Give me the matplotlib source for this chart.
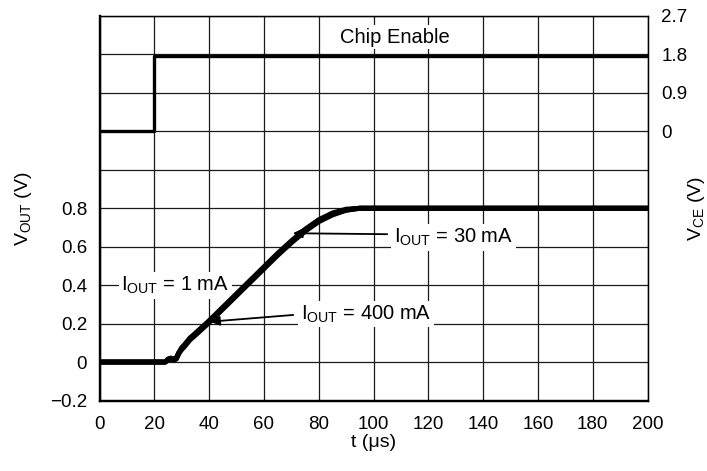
import numpy as np
import matplotlib
matplotlib.use("Agg")
import matplotlib.pyplot as plt

plt.rcParams['font.family'] = ['Liberation Sans', 'DejaVu Sans']
plt.rcParams['font.size'] = 13.5

# time axis (us) and output voltage traces
t_vout = [0, 24, 25, 26, 27, 28, 29, 30, 31, 33, 35, 40, 45, 50, 55, 60,
          65, 70, 75, 80, 85, 90, 95, 100, 200]
vout_1ma = [0.0, 0.0, 0.015, 0.02, 0.015, 0.02, 0.05, 0.075, 0.09, 0.125,
            0.15, 0.215, 0.285, 0.355, 0.425, 0.495, 0.565, 0.63, 0.69,
            0.74, 0.775, 0.795, 0.80, 0.80, 0.80]
vout_30ma = [0.0, 0.0, 0.015, 0.02, 0.015, 0.02, 0.05, 0.07, 0.085, 0.12,
             0.145, 0.21, 0.28, 0.35, 0.42, 0.49, 0.56, 0.625, 0.685,
             0.735, 0.77, 0.79, 0.80, 0.80, 0.80]
vout_400ma = [0.0, 0.0, 0.01, 0.015, 0.01, 0.015, 0.045, 0.065, 0.08, 0.115,
              0.14, 0.205, 0.275, 0.345, 0.415, 0.485, 0.555, 0.62, 0.68,
              0.73, 0.765, 0.79, 0.80, 0.80, 0.80]

# chip enable trace (V), right axis
t_ce = [0, 20, 20, 200]
v_ce = [0.0, 0.0, 1.77, 1.77]

x_ticks = [0, 20, 40, 60, 80, 100, 120, 140, 160, 180, 200]
left_ticks = [-0.2, 0.0, 0.2, 0.4, 0.6, 0.8, 1.0, 1.2, 1.4, 1.6, 1.8]
left_labels = ['\u22120.2', '0', '0.2', '0.4', '0.6', '0.8', '', '', '', '', '']
right_ticks = [0, 0.9, 1.8, 2.7]
right_labels = ['0', '0.9', '1.8', '2.7']

fig = plt.figure(figsize=(7.07, 4.71), dpi=100)
ax = fig.add_axes([99.5 / 707, 1 - 400.5 / 471, 548 / 707, 384.5 / 471])
ax2 = ax.twinx()

ax.set_xlim(0, 200)
ax.set_ylim(-0.2, 1.8)
ax2.set_ylim(-6.3, 2.7)

ax.set_xticks(x_ticks)
ax.set_yticks(left_ticks)
ax.set_yticklabels(left_labels)
ax2.set_yticks(right_ticks)
ax2.set_yticklabels(right_labels)

ax.tick_params(axis='x', length=0, pad=11)
ax.tick_params(axis='y', length=0, pad=9)
ax2.tick_params(axis='y', length=0, pad=10)

ax.set_axisbelow(True)
ax.grid(True, color='#1a1a1a', linewidth=0.9)

for a in (ax, ax2):
    a.spines['left'].set_linewidth(1.6)
    a.spines['bottom'].set_linewidth(1.6)
    a.spines['top'].set_linewidth(0.9)
    a.spines['right'].set_linewidth(0.9)

ax.plot(t_vout, vout_1ma, color='black', linewidth=3.6, zorder=3,
        solid_capstyle='round')
ax.plot(t_vout, vout_30ma, color='black', linewidth=3.6, zorder=3,
        solid_capstyle='round')
ax.plot(t_vout, vout_400ma, color='black', linewidth=3.6, zorder=3,
        solid_capstyle='round')
ax2.plot(t_ce, v_ce, color='black', linewidth=2.4, zorder=3)

fs = 14.5
box = dict(facecolor='white', edgecolor='none', pad=2)
ax.text(107.8, 1.69, 'Chip Enable', ha='center', va='center', fontsize=fs,
        bbox=box, zorder=1)
ax.text(27.7, 0.40, r'I$_{\mathregular{OUT}}$ = 1 mA', ha='center', va='center',
        fontsize=fs, bbox=box, zorder=1)
ax.text(107.5, 0.65, r'I$_{\mathregular{OUT}}$ = 30 mA', ha='left', va='center',
        fontsize=fs, bbox=box, zorder=1)
ax.text(73.5, 0.25, r'I$_{\mathregular{OUT}}$ = 400 mA', ha='left', va='center',
        fontsize=fs, bbox=box, zorder=1)

arrow = dict(arrowstyle='-|>', color='black', lw=1.3,
             mutation_scale=14, shrinkA=0, shrinkB=0)
ax.annotate('', xy=(70.6, 0.67), xytext=(105, 0.665), arrowprops=arrow, zorder=4)
ax.annotate('', xy=(40.4, 0.21), xytext=(70.7, 0.245), arrowprops=arrow, zorder=4)

ax.set_xlabel('t (\u03bcs)', fontsize=14)
ax.xaxis.set_label_coords(0.5, -0.11)
ax.xaxis.label.set_va('center')
ax.set_ylabel(r'V$_{\mathregular{OUT}}$ (V)', fontsize=14)
ax.yaxis.set_label_coords(-0.138, 0.5)
ax.yaxis.label.set_va('center')
ax2.set_ylabel(r'V$_{\mathregular{CE}}$ (V)', fontsize=14)
ax2.yaxis.set_label_coords(1.09, 0.5)
ax2.yaxis.label.set_va('center')

fig.savefig('out.png', dpi=100)
